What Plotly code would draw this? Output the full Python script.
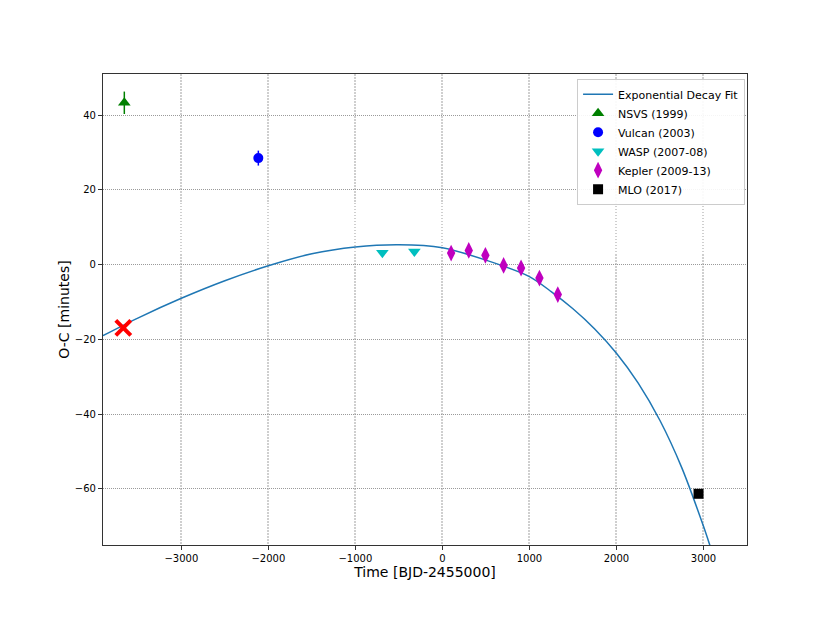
import plotly.graph_objects as go

# Exponential decay fit curve
fit_t = [-3900, -3500, -3000, -2500, -2000, -1500, -1000, -500, 0, 500, 1000,
         1250, 1500, 1750, 2000, 2250, 2500, 2750, 3000, 3100]
fit_oc = [-19.0, -14.3, -9.0, -4.3, -0.3, 2.9, 4.7, 5.3, 4.5, 1.2, -3.2,
          -7.2, -11.8, -17.2, -23.7, -31.7, -41.7, -54.3, -70.0, -77.0]

nsvs_t = [-3655]
nsvs_oc = [43.3]
nsvs_err = [3.0]

vulcan_t = [-2115]
vulcan_oc = [28.5]
vulcan_err = [2.0]

wasp_t = [-690, -322]
wasp_oc = [3.2, 3.5]

kepler_t = [100, 303, 494, 703, 904, 1115, 1326]
kepler_oc = [3.1, 3.8, 2.5, -0.2, -0.9, -3.6, -8.0]

mlo_t = [2943]
mlo_oc = [-61.3]

cross_t = [-3667]
cross_oc = [-16.9]

FONT = "DejaVu Sans"

fig = go.Figure()
fig.add_trace(go.Scatter(x=fit_t, y=fit_oc, mode="lines", name="Exponential Decay Fit",
                         line=dict(color="#1f77b4", width=1.5, shape="spline", smoothing=0.8)))
fig.add_trace(go.Scatter(x=nsvs_t, y=nsvs_oc, mode="markers", name="NSVS (1999)",
                         marker=dict(symbol="triangle-up", color="#008000", size=11),
                         error_y=dict(type="data", array=nsvs_err, color="#008000", thickness=1.5, width=0)))
fig.add_trace(go.Scatter(x=vulcan_t, y=vulcan_oc, mode="markers", name="Vulcan (2003)",
                         marker=dict(symbol="circle", color="#0000ff", size=10),
                         error_y=dict(type="data", array=vulcan_err, color="#0000ff", thickness=1.5, width=0)))
fig.add_trace(go.Scatter(x=wasp_t, y=wasp_oc, mode="markers", name="WASP (2007-08)",
                         marker=dict(symbol="triangle-down", color="#00bfbf", size=11)))
fig.add_trace(go.Scatter(x=kepler_t, y=kepler_oc, mode="markers", name="Kepler (2009-13)",
                         marker=dict(symbol="diamond-tall", color="#bf00bf", size=12)))
fig.add_trace(go.Scatter(x=mlo_t, y=mlo_oc, mode="markers", name="MLO (2017)",
                         marker=dict(symbol="square", color="#000000", size=10)))
fig.add_trace(go.Scatter(x=cross_t, y=cross_oc, mode="markers", showlegend=False,
                         marker=dict(symbol="x-thin", size=15, line=dict(color="#ff0000", width=4))))

axis_common = dict(showline=True, linecolor="#333333", linewidth=1.2, mirror=True,
                   ticks="outside", ticklen=4, tickcolor="#333333", zeroline=False,
                   tickfont=dict(family=FONT, size=10, color="#000000"))

fig.update_layout(
    width=830, height=623,
    margin=dict(l=95, r=91, t=66, b=86),
    paper_bgcolor="white", plot_bgcolor="white",
    font=dict(family=FONT, color="#000000"),
    xaxis=dict(range=[-3900, 3500], tickvals=[-3000, -2000, -1000, 0, 1000, 2000, 3000],
               showgrid=True, gridcolor="#cfcfcf", gridwidth=1.6, griddash="1.5px,1.5px",
               title=dict(text="Time [BJD-2455000]", font=dict(family=FONT, size=14), standoff=0),
               **axis_common),
    yaxis=dict(range=[-75, 51], tickvals=[-60, -40, -20, 0, 20, 40],
               showgrid=True, gridcolor="#9a9a9a", gridwidth=1, griddash="1px,1px",
               title=dict(text="O-C [minutes]", font=dict(family=FONT, size=14), standoff=1),
               **axis_common),
    legend=dict(x=0.997, y=0.99, xanchor="right", yanchor="top",
                bordercolor="#cccccc", borderwidth=1, bgcolor="rgba(255,255,255,0.9)",
                font=dict(family=FONT, size=11), tracegroupgap=0, itemwidth=30),
)

fig.write_html("out.html")
